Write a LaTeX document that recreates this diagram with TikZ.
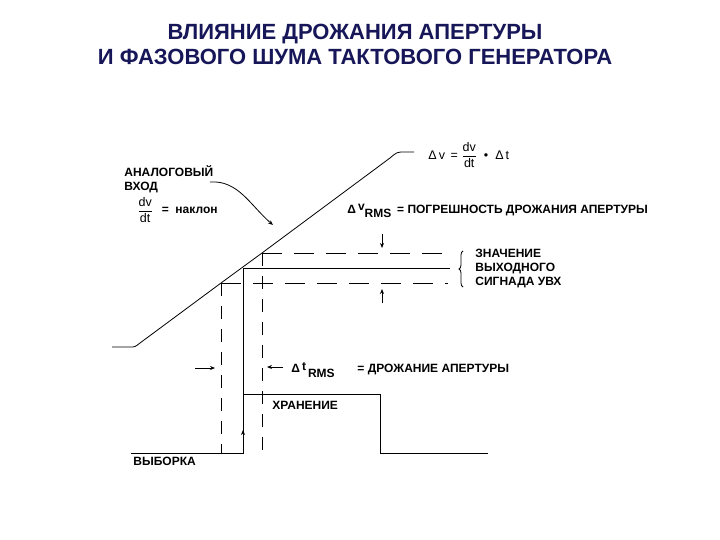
\documentclass[tikz,border=0pt]{standalone}
\usepackage{fontspec}
\setmainfont{Liberation Sans}
\usetikzlibrary{positioning, decorations.pathreplacing, arrows.meta}
\definecolor{titleblue}{RGB}{22,22,88}

\tikzset{
    heading/.style={font=\bfseries\fontsize{22}{25}\selectfont, text=titleblue, align=center},
    lbl/.style={font=\bfseries\fontsize{12}{14}\selectfont, inner sep=0pt, anchor=west, align=left},
    formula/.style={font=\fontsize{12.5}{14}\selectfont, inner sep=0pt, anchor=west},
    hdash/.style={dash pattern=on 20pt off 12pt},
    vdash/.style={dash pattern=on 13pt off 10pt},
}

\begin{document}
\begin{tikzpicture}[x=1pt, y=-1pt, line width=0.8pt, >={Stealth[length=5pt,width=4pt]}]
    \useasboundingbox (0,0) rectangle (720,540);
    \node[heading] (title) at (355,44) {ВЛИЯНИЕ ДРОЖАНИЯ АПЕРТУРЫ\\И ФАЗОВОГО ШУМА ТАКТОВОГО ГЕНЕРАТОРА};

    % analog ramp and the two sampling points on it
    \coordinate (lo) at (221,283);
    \coordinate (hi) at (262,253);
    \coordinate (ramptip) at (273,225);
    \draw (112,347) -- (130,347) .. controls (135,347) .. (140,343) -- (lo) -- (hi)
        -- (390,158) .. controls (397,152) .. (405,152) -- (414,152);

    % held output and sample/hold control
    \coordinate (hold) at (243,268);
    \coordinate (holdend) at (450,268);
    \draw (hold) -- (holdend);
    \draw (hold) -- (243,453);
    \draw (131,453) -- (243,453) -- (243,394) -- (380,394) -- (380,453) -- (488,453);
    \draw[->] (243,446) -- (243,430);

    \draw[hdash] (hi) -- (448,253);
    \draw[hdash] (lo) -- (448,283);
    \draw[vdash] (lo) -- (221,453);
    \draw[vdash] (hi) -- (262,453);

    \draw[->] (382,234) -- (382,248);
    \draw[->] (382,303) -- (382,289);
    \draw[->] (195,368) -- (215,368);
    \draw[->] (283,367) -- (267,367);
    \draw[decorate, decoration={brace, amplitude=4pt}] (463,287) -- (463,251);

    \node[lbl] (analog) at (124,179) {АНАЛОГОВЫЙ\\ВХОД};
    \draw[->] (210,182) .. controls (238,180) and (250,205) .. (ramptip);
    \node[formula] (slope) at (137,210) {$\displaystyle\frac{\mbox{dv}}{\mbox{dt}}$};
    \node[lbl, right=8pt] (slopetxt) at (slope.east) {=\ \ наклон};

    \node[formula] (dv) at (428,155) {Δ\,v\,\ =\ $\displaystyle\frac{\mbox{dv}}{\mbox{dt}}$\ \ \textbullet\ \ Δ\,t};
    \node[lbl] (vrms) at (347,211) {Δ\,\raisebox{3pt}{v}\raisebox{-4pt}{RMS}};
    \node[lbl, right=5pt] (vrmstxt) at (vrms.east) {= ПОГРЕШНОСТЬ ДРОЖАНИЯ АПЕРТУРЫ};

    \node[lbl] (output) at (475,269) {ЗНАЧЕНИЕ\\ВЫХОДНОГО\\СИГНАДА УВХ};

    \node[lbl] (trms) at (291,370) {Δ\,\raisebox{2pt}{t}\,\raisebox{-5pt}{RMS}};
    \node[lbl, right=22pt] (trmstxt) at (trms.east) {= ДРОЖАНИЕ АПЕРТУРЫ};

    \node[lbl] (store) at (272,405) {ХРАНЕНИЕ};
    \node[lbl] (sample) at (133,461) {ВЫБОРКА};
\end{tikzpicture}
\end{document}
